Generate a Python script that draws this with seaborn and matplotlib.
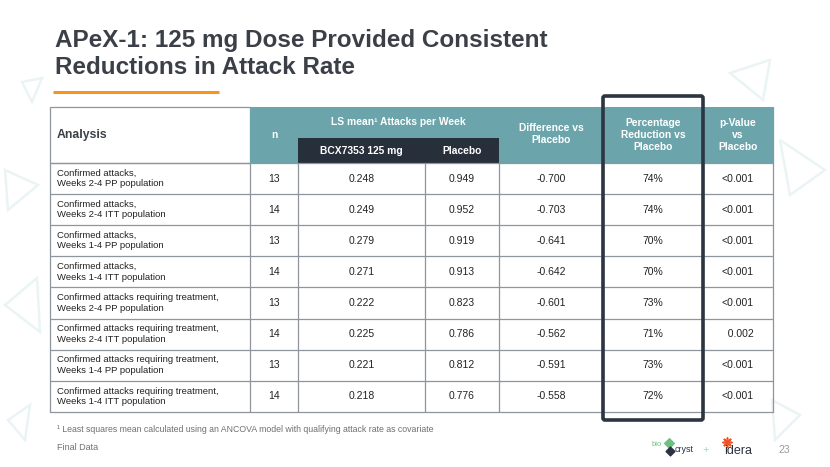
import numpy as np
import pandas as pd
import seaborn as sns
import matplotlib.pyplot as plt
from matplotlib.patches import Rectangle, Polygon, FancyBboxPatch

# table data
analysis = ['Confirmed attacks,\nWeeks 2-4 PP population',
            'Confirmed attacks,\nWeeks 2-4 ITT population',
            'Confirmed attacks,\nWeeks 1-4 PP population',
            'Confirmed attacks,\nWeeks 1-4 ITT population',
            'Confirmed attacks requiring treatment,\nWeeks 2-4 PP population',
            'Confirmed attacks requiring treatment,\nWeeks 2-4 ITT population',
            'Confirmed attacks requiring treatment,\nWeeks 1-4 PP population',
            'Confirmed attacks requiring treatment,\nWeeks 1-4 ITT population']
n_values = [13, 14, 13, 14, 13, 14, 13, 14]
bcx_mean = ['0.248', '0.249', '0.279', '0.271', '0.222', '0.225', '0.221', '0.218']
placebo_mean = ['0.949', '0.952', '0.919', '0.913', '0.823', '0.786', '0.812', '0.776']
difference = ['-0.700', '-0.703', '-0.641', '-0.642', '-0.601', '-0.562', '-0.591', '-0.558']
pct_reduction = ['74%', '74%', '70%', '70%', '73%', '71%', '73%', '72%']
p_values = ['<0.001', '<0.001', '<0.001', '<0.001', '<0.001', '  0.002', '<0.001', '<0.001']

df = pd.DataFrame({'Analysis': analysis, 'n': n_values, 'BCX': bcx_mean,
                   'Placebo': placebo_mean, 'Diff': difference,
                   'Pct': pct_reduction, 'p': p_values})

sns.set_theme(style='white')
plt.rcParams['font.family'] = ['Liberation Sans', 'DejaVu Sans']

fig = plt.figure(figsize=(8.3, 4.67), dpi=100)
ax = fig.add_axes([0, 0, 1, 1])
ax.set_xlim(0, 830)
ax.set_ylim(467, 0)
ax.axis('off')

teal = '#6ba5ab'
dark = '#272f3b'
grid = '#8e959c'
tri = '#ebf4f5'

# faint background triangles
for pts in [[(22, 82), (42, 78), (32, 102)], [(5, 170), (38, 185), (8, 210)],
            [(37, 278), (5, 305), (40, 332)], [(30, 405), (8, 420), (25, 440)],
            [(730, 73), (770, 60), (763, 100)], [(780, 140), (825, 170), (790, 195)],
            [(512, 115), (526, 115), (519, 130)], [(772, 400), (800, 415), (775, 440)]]:
    ax.add_patch(Polygon(pts, closed=True, fill=False, ec=tri, lw=1.8, zorder=0))

# title
ax.text(55, 54, 'APeX-1: 125 mg Dose Provided Consistent\nReductions in Attack Rate',
        fontsize=17.5, fontweight='bold', color='#3b4048', va='center', ha='left',
        linespacing=1.2)
ax.plot([53, 219], [92, 92], color='#f7941d', lw=2.2, solid_capstyle='butt')

col_edges = [50, 250, 298, 425, 499, 603, 703, 773]
top, head_bot, band_top = 107, 163, 138
row_h = 31.1
n_rows = len(df)
bottom = head_bot + row_h * n_rows

# header backgrounds
ax.add_patch(Rectangle((col_edges[0], top), col_edges[1] - col_edges[0], head_bot - top,
                       fc='white', ec=grid, lw=0.9, zorder=1))
ax.add_patch(Rectangle((col_edges[1], top), col_edges[-1] - col_edges[1], head_bot - top,
                       fc=teal, ec='none', zorder=1))
ax.add_patch(Rectangle((col_edges[2], band_top), col_edges[4] - col_edges[2], head_bot - band_top,
                       fc=dark, ec='none', zorder=2))

hkw = dict(color='white', fontweight='bold', fontsize=7.4, ha='center', va='center', zorder=3)
ax.text(57, 135, 'Analysis', color='#3b4048', fontweight='bold', fontsize=8.8,
        ha='left', va='center', zorder=3)
ax.text((col_edges[1] + col_edges[2]) / 2, 135, 'n', **hkw)
ax.text((col_edges[2] + col_edges[4]) / 2, 122, 'LS mean¹ Attacks per Week', **hkw)
ax.text((col_edges[2] + col_edges[3]) / 2, 151, 'BCX7353 125 mg', **hkw)
ax.text((col_edges[3] + col_edges[4]) / 2, 151, 'Placebo', **hkw)
ax.text((col_edges[4] + col_edges[5]) / 2, 134, 'Difference vs\nPlacebo', linespacing=1.25, **hkw)
ax.text((col_edges[5] + col_edges[6]) / 2, 135, 'Percentage\nReduction vs\nPlacebo', linespacing=1.2, **hkw)
ax.text((col_edges[6] + col_edges[7]) / 2, 135, 'p-Value\nvs\nPlacebo', linespacing=1.2, **hkw)

# body grid
for i in range(n_rows + 1):
    y = head_bot + i * row_h
    ax.plot([col_edges[0], col_edges[-1]], [y, y], color=grid, lw=0.9, zorder=2)
for x in col_edges:
    ax.plot([x, x], [head_bot, bottom], color=grid, lw=0.9, zorder=2)
ax.plot([col_edges[-1], col_edges[-1]], [top, head_bot], color=grid, lw=0.9, zorder=2)

bkw = dict(color='#222222', fontsize=7.5, ha='center', va='center', zorder=3)
for i, row in df.iterrows():
    yc = head_bot + (i + 0.5) * row_h
    ax.text(col_edges[0] + 7, yc, row['Analysis'], color='#222222', fontsize=6.8,
            ha='left', va='center', linespacing=1.2, zorder=3)
    vals = [str(row['n']), row['BCX'], row['Placebo'], row['Diff'], row['Pct'], row['p']]
    for j, v in enumerate(vals):
        ax.text((col_edges[j + 1] + col_edges[j + 2]) / 2, yc, v, **bkw)

# highlight box around percentage reduction
ax.add_patch(FancyBboxPatch((col_edges[5], 96), col_edges[6] - col_edges[5], 420 - 96,
                            boxstyle='round,pad=0,rounding_size=2', fill=False,
                            ec='#2d3542', lw=2.6, zorder=4))

# footer
ax.text(57, 429, '¹ Least squares mean calculated using an ANCOVA model with qualifying attack rate as covariate',
        fontsize=6.3, color='#707070', ha='left', va='center')
ax.text(57, 447, 'Final Data', fontsize=6.5, color='#707070', ha='left', va='center')

# logos
ax.text(652, 444, 'bio', fontsize=5.5, color='#6cc17f', ha='left', va='center')
ax.scatter([669], [443], marker='D', s=24, color='#6cc17f', zorder=3)
ax.scatter([670], [451], marker='D', s=20, color='#2b3340', zorder=3)
ax.text(675, 450, 'cryst', fontsize=6.5, color='#2b3340', ha='left', va='center')
ax.text(706, 450, '+', fontsize=8, color='#a8cdd2', ha='center', va='center')
ax.scatter([727], [442], marker=(8, 2, 0), s=40, color='#e8572b', lw=1.2, zorder=3)
ax.text(724, 451, 'idera', fontsize=9, color='#2b3340', ha='left', va='center')
ax.text(778, 450, '23', fontsize=7.5, color='#9a9a9a', ha='left', va='center')

fig.savefig('out.png', dpi=100)
